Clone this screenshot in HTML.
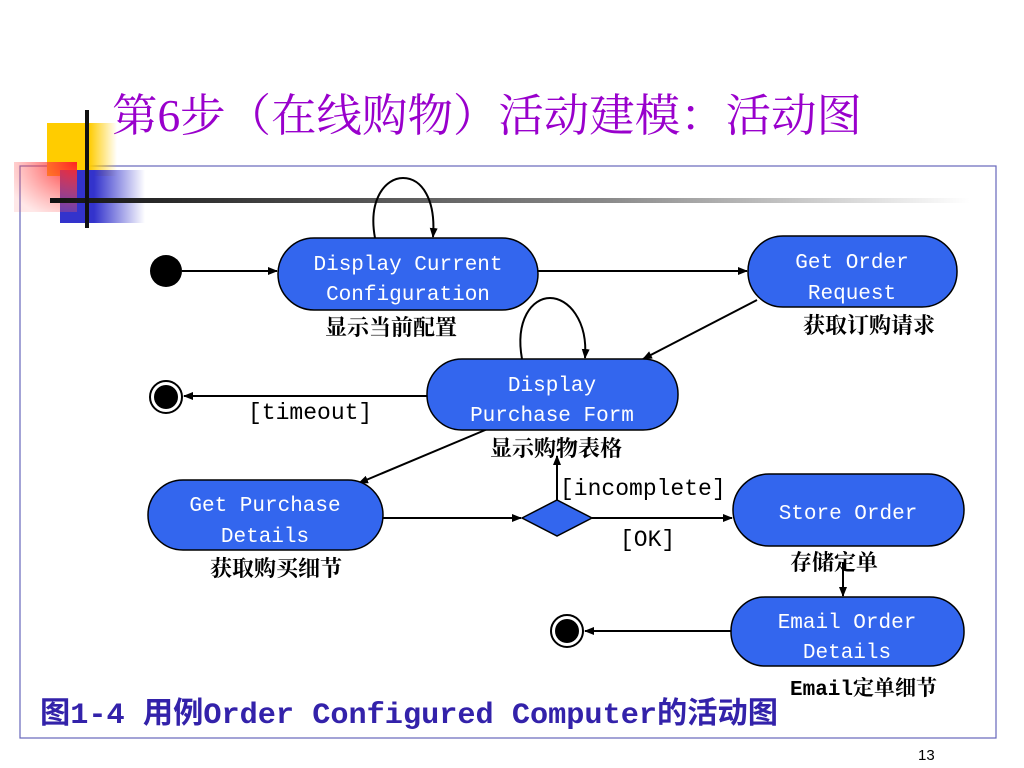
<!DOCTYPE html>
<html><head><meta charset="utf-8"><style>
html,body{margin:0;padding:0;background:#fff;}
svg{display:block}
.n{font-family:"Liberation Mono","Noto Sans CJK SC",monospace;font-size:21px;fill:#fff;text-anchor:middle}
.c{font-family:"Liberation Serif","Noto Serif CJK SC","Noto Sans CJK SC",serif;font-size:22px;font-weight:bold;fill:#000}
.g{font-family:"Liberation Mono",monospace;font-size:23px;fill:#000}
</style></head><body>
<svg width="1024" height="768" viewBox="0 0 1024 768" xmlns="http://www.w3.org/2000/svg">
<defs>
<linearGradient id="yl" x1="0" x2="1"><stop offset="0.6" stop-color="#ffcc00"/><stop offset="1" stop-color="#ffcc00" stop-opacity="0"/></linearGradient>
<linearGradient id="bl" x1="0" x2="1"><stop offset="0.4" stop-color="#3333cc"/><stop offset="1" stop-color="#3333cc" stop-opacity="0"/></linearGradient>
<radialGradient id="rd" cx="1" cy="0" r="1.2"><stop offset="0" stop-color="#ff2222"/><stop offset="1" stop-color="#ff6666" stop-opacity="0.15"/></radialGradient>
<linearGradient id="hl" x1="0" x2="1"><stop offset="0" stop-color="#111"/><stop offset="0.6" stop-color="#888"/><stop offset="1" stop-color="#fff"/></linearGradient>
<marker id="a" markerWidth="10" markerHeight="8" refX="9" refY="4" orient="auto" markerUnits="userSpaceOnUse"><path d="M0,0 L10,4 L0,8 z" fill="#000"/></marker>
</defs>
<text x="112" y="131" font-family="'Liberation Serif','Noto Serif CJK SC',serif" font-size="45" fill="#9900cc" textLength="750" lengthAdjust="spacingAndGlyphs">第6步（在线购物）活动建模：活动图</text>
<rect x="20" y="166" width="976" height="572" fill="none" stroke="#6666bb" stroke-width="1.2"/>
<rect x="47" y="123" width="70" height="53" fill="url(#yl)"/>
<rect x="60" y="170" width="85" height="53" fill="url(#bl)"/>
<rect x="14" y="162" width="63" height="50" fill="url(#rd)"/>
<rect x="50" y="198" width="920" height="5" fill="url(#hl)"/>
<rect x="85" y="110" width="4" height="118" fill="#111"/>
<g stroke="#000" stroke-width="2" fill="none">
<line x1="182" y1="271" x2="277" y2="271" marker-end="url(#a)"/>
<line x1="538" y1="271" x2="747" y2="271" marker-end="url(#a)"/>
<line x1="757" y1="300" x2="643" y2="359" marker-end="url(#a)"/>
<line x1="427" y1="396" x2="184" y2="396" marker-end="url(#a)"/>
<line x1="490" y1="428" x2="359" y2="483" marker-end="url(#a)"/>
<line x1="383" y1="518" x2="521" y2="518" marker-end="url(#a)"/>
<line x1="592" y1="518" x2="732" y2="518" marker-end="url(#a)"/>
<line x1="557" y1="500" x2="557" y2="456" marker-end="url(#a)"/>
<line x1="843" y1="562" x2="843" y2="596" marker-end="url(#a)"/>
<line x1="731" y1="631" x2="585" y2="631" marker-end="url(#a)"/>
<path d="M375,238 C368,200 385,178 403,178 C422,178 436,200 433,237" marker-end="url(#a)"/>
<path d="M522,359 C515,320 532,298 550,298 C568,298 588,320 585,358" marker-end="url(#a)"/>
</g>
<g fill="#3366ee" stroke="#000" stroke-width="1.5">
<rect x="278" y="238" width="260" height="72" rx="36"/>
<rect x="748" y="236" width="209" height="71" rx="35"/>
<rect x="427" y="359" width="251" height="71" rx="35"/>
<rect x="148" y="480" width="235" height="70" rx="35"/>
<rect x="733" y="474" width="231" height="72" rx="36"/>
<rect x="731" y="597" width="233" height="69" rx="34"/>
<polygon points="522,518 557,500 592,518 557,536"/>
</g>
<circle cx="166" cy="271" r="16" fill="#000"/>
<circle cx="166" cy="397" r="16" fill="#fff" stroke="#000" stroke-width="2"/><circle cx="166" cy="397" r="12" fill="#000"/>
<circle cx="567" cy="631" r="16" fill="#fff" stroke="#000" stroke-width="2"/><circle cx="567" cy="631" r="12" fill="#000"/>
<text class="n" x="408" y="270">Display Current</text><text class="n" x="408" y="300">Configuration</text>
<text class="n" x="852" y="268">Get Order</text><text class="n" x="852" y="299">Request</text>
<text class="n" x="552" y="391">Display</text><text class="n" x="552" y="421">Purchase Form</text>
<text class="n" x="265" y="511">Get Purchase</text><text class="n" x="265" y="542">Details</text>
<text class="n" x="848" y="519">Store Order</text>
<text class="n" x="847" y="628">Email Order</text><text class="n" x="847" y="658">Details</text>
<text class="c" x="325" y="335">显示当前配置</text>
<text class="c" x="803" y="333">获取订购请求</text>
<text class="c" x="490" y="456">显示购物表格</text>
<text class="c" x="210" y="576">获取购买细节</text>
<text class="c" x="790" y="570">存储定单</text>
<text class="c" x="790" y="695" style="font-family:'Liberation Mono','Noto Serif CJK SC',monospace;font-size:21px">Email定单细节</text>
<text class="g" x="248" y="419">[timeout]</text>
<text class="g" x="560" y="495">[incomplete]</text>
<text class="g" x="620" y="546">[OK]</text>
<text x="40" y="723" font-family="'Liberation Mono','Noto Sans CJK SC',monospace" font-weight="bold" font-size="30" fill="#3322aa" textLength="738" lengthAdjust="spacingAndGlyphs">图1-4 用例Order Configured Computer的活动图</text>
<text x="918" y="760" font-family="'Liberation Sans',sans-serif" font-size="15" fill="#000">13</text>
</svg>
</body></html>
